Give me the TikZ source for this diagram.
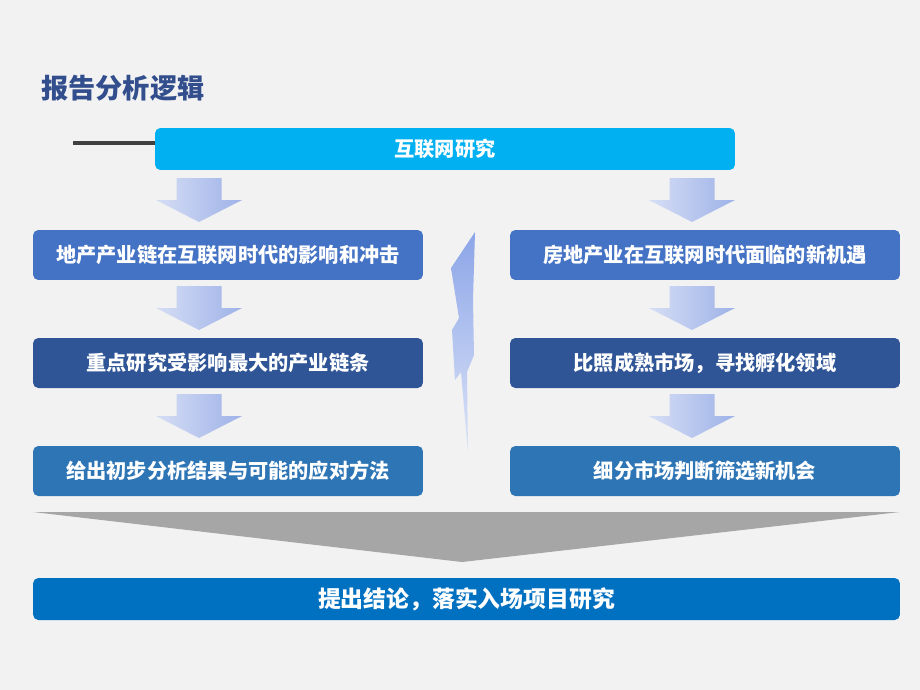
\documentclass[tikz,border=0pt]{standalone}
\usepackage{fontspec}
\newfontfamily\cjk{Noto Sans CJK SC}
\usetikzlibrary{positioning, calc}
\definecolor{BgGray}{RGB}{242,242,242}
\definecolor{TitleBlue}{RGB}{50,78,140}
\definecolor{NetCyan}{RGB}{0,176,240}
\definecolor{RowOne}{RGB}{68,114,196}
\definecolor{RowTwo}{RGB}{47,85,151}
\definecolor{RowThree}{RGB}{46,117,182}
\definecolor{FinalBlue}{RGB}{0,112,192}
\definecolor{ArrowLight}{RGB}{214,222,245}
\definecolor{ArrowDark}{RGB}{158,178,232}
\definecolor{BoltDark}{RGB}{140,165,232}
\definecolor{BoltLight}{RGB}{220,228,247}
\definecolor{FunnelGray}{RGB}{166,166,166}

\begin{document}
\begin{tikzpicture}[
    x=0.02cm, y=-0.02cm,
    every node/.style={font=\cjk\bfseries\fontsize{11.5}{14}\selectfont, text=white},
    stepbox/.style={rectangle, rounded corners=3pt, minimum width=7.8cm, minimum height=1cm, inner sep=0pt},
    topbar/.style={rectangle, rounded corners=3pt, fill=NetCyan, minimum width=11.6cm, minimum height=0.84cm, inner sep=0pt},
    finalbar/.style={rectangle, rounded corners=3pt, fill=FinalBlue, minimum width=17.34cm, minimum height=0.84cm, inner sep=0pt, font=\cjk\bfseries\fontsize{13}{16}\selectfont},
]

% Background
\fill[BgGray] (0,0) rectangle (920,690);
\useasboundingbox (0,0) rectangle (920,690);

% Title
\node[anchor=west, text=TitleBlue, font=\cjk\bfseries\fontsize{15.5}{18}\selectfont] (title) at (35,88) {报告分析逻辑};

% Top bar
\node[topbar] (net) at (445,149) {互联网研究};
\coordinate (lead) at (73,143);
\draw[line width=2pt, black!75] (lead) -- (lead -| net.west);

% Left column
\node[stepbox, fill=RowOne] (l1) at (228,255) {地产产业链在互联网时代的影响和冲击};
\node[stepbox, fill=RowTwo] (l2) at (228,363) {重点研究受影响最大的产业链条};
\node[stepbox, fill=RowThree] (l3) at (228,471) {给出初步分析结果与可能的应对方法};

% Right column
\node[stepbox, fill=RowOne] (r1) at (705,255) {房地产业在互联网时代面临的新机遇};
\node[stepbox, fill=RowTwo] (r2) at (705,363) {比照成熟市场，寻找孵化领域};
\node[stepbox, fill=RowThree] (r3) at (705,471) {细分市场判断筛选新机会};

% Block arrows
\foreach \x in {199,692} {
    \foreach \y in {178,286,394} {
        \shade[left color=ArrowLight, right color=ArrowDark]
            (\x-22.5,\y) -- (\x+22.5,\y) -- (\x+22.5,\y+22) -- (\x+43,\y+22)
            -- (\x,\y+44) -- (\x-43,\y+22) -- (\x-22.5,\y+22) -- cycle;
    }
}

% Lightning
\shade[top color=BoltDark, bottom color=BoltLight]
    (475,232) -- (451,268) -- (459,318) -- (452,330) -- (455,380) -- (461,372)
    -- (468,453) -- (467,372) -- (474,355) -- (473,300) -- cycle;

% Funnel
\fill[FunnelGray] (33,512) -- (900,512) -- (462,562) -- cycle;

% Conclusion
\node[finalbar] (final) at (466.5,599) {提出结论，落实入场项目研究};

\end{tikzpicture}
\end{document}
